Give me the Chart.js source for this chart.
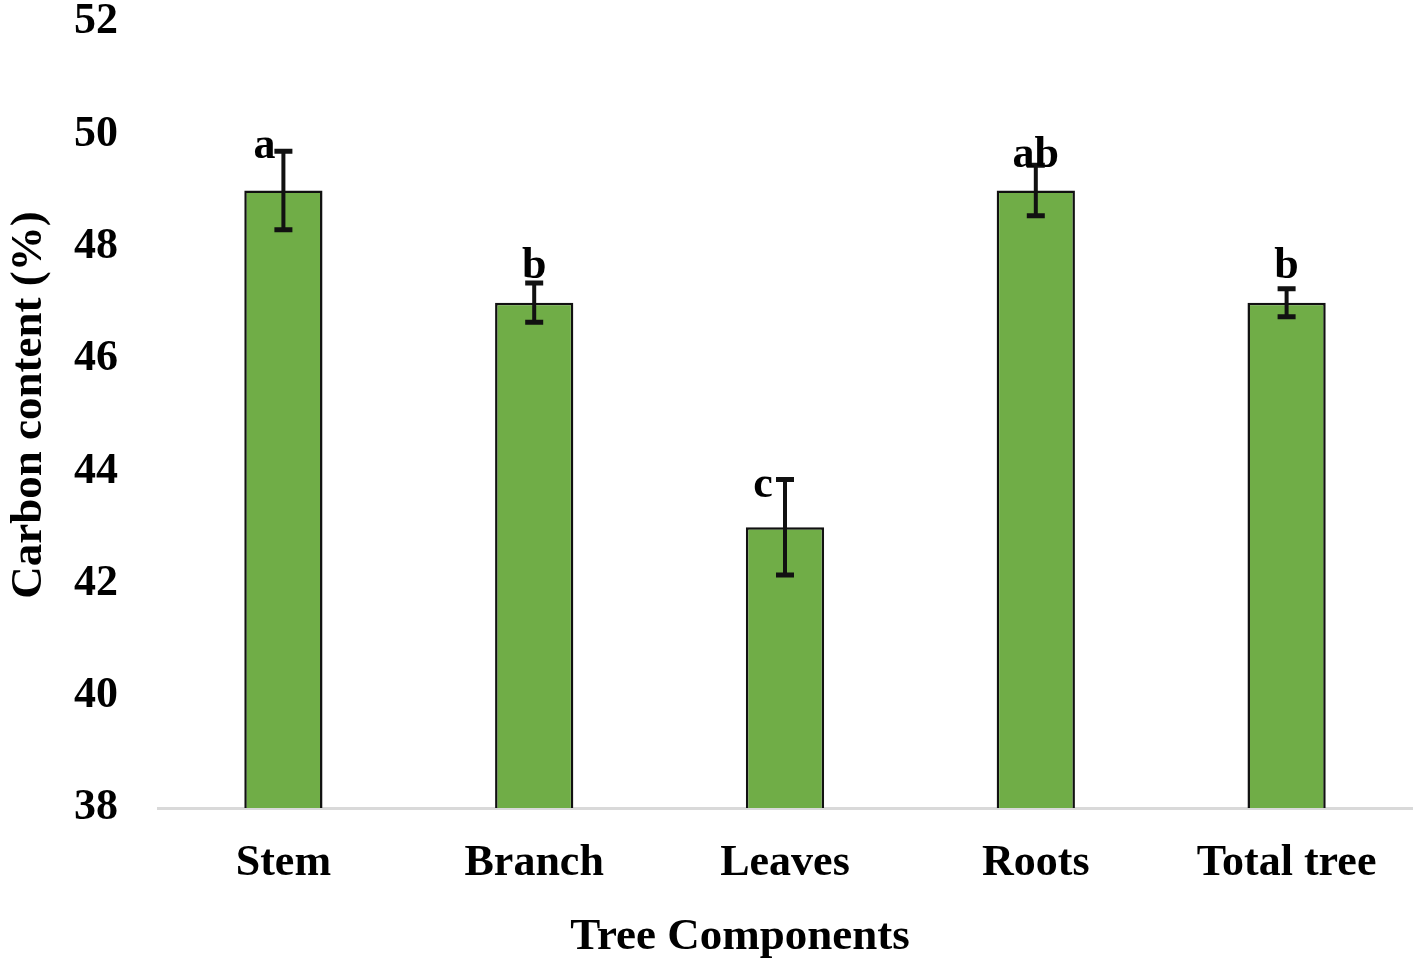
<!DOCTYPE html>
<html>
<head>
<meta charset="utf-8">
<script src="https://cdn.jsdelivr.net/npm/chart.js@4.4.0/dist/chart.umd.min.js"></script>
<style>
html,body{margin:0;padding:0;background:#fff;}
#wrap{width:1418px;height:969px;position:relative;}
</style>
</head>
<body>
<div id="wrap"><canvas id="c"></canvas></div>
<script>
const categories = ['Stem', 'Branch', 'Leaves', 'Roots', 'Total tree'];
const carbonContent = [49.0, 47.0, 43.0, 49.0, 47.0];
const errorValues = [0.7, 0.35, 0.85, 0.45, 0.25];
const letters = ['a', 'b', 'c', 'ab', 'b'];
const letterBaseline = [49.58, 47.44, 43.54, 49.42, 47.44];
const yTicks = [38, 40, 42, 44, 46, 48, 50, 52];
const xTitle = 'Tree Components';
const yTitle = 'Carbon content (%)';

const FONT = '"Liberation Serif", "Times New Roman", serif';
const FS = 44;

const errorPlugin = {
  id: 'errorBars',
  afterDatasetsDraw(chart, args, opts) {
    const ctx = chart.ctx;
    const meta = chart.getDatasetMeta(0);
    const y = chart.scales.y;
    const area = chart.chartArea;
    ctx.save();
    ctx.strokeStyle = '#111';
    ctx.lineCap = 'butt';
    meta.data.forEach((bar, i) => {
      const x = bar.x;
      const top = y.getPixelForValue(carbonContent[i] + errorValues[i]);
      const bot = y.getPixelForValue(carbonContent[i] - errorValues[i]);
      ctx.lineWidth = 4;
      ctx.beginPath();
      ctx.moveTo(x, top); ctx.lineTo(x, bot);
      ctx.stroke();
      ctx.lineWidth = 5;
      ctx.beginPath();
      ctx.moveTo(x - 9, top); ctx.lineTo(x + 9, top);
      ctx.moveTo(x - 9, bot); ctx.lineTo(x + 9, bot);
      ctx.stroke();
    });
    ctx.fillStyle = '#000';
    ctx.font = 'bold ' + FS + 'px ' + FONT;
    ctx.textAlign = 'center';
    ctx.textBaseline = 'alphabetic';
    meta.data.forEach((bar, i) => {
      ctx.fillText(letters[i], bar.x + opts.dx[i], y.getPixelForValue(letterBaseline[i]));
    });
    // axis titles
    ctx.font = 'bold ' + (FS + 1) + 'px ' + FONT;
    ctx.textBaseline = 'middle';
    ctx.fillText(xTitle, (area.left + area.right) / 2 - 45, 937);
    ctx.translate(29, (area.top + area.bottom) / 2 - 10);
    ctx.rotate(-Math.PI / 2);
    ctx.fillText(yTitle, 0, 0);
    ctx.restore();
  }
};

new Chart(document.getElementById('c'), {
  type: 'bar',
  data: {
    labels: categories,
    datasets: [{
      data: carbonContent,
      backgroundColor: '#70ad47',
      borderColor: '#111',
      borderWidth: 2.5,
      borderSkipped: 'bottom',
      categoryPercentage: 1.0,
      barPercentage: 0.312
    }]
  },
  options: {
    responsive: true,
    maintainAspectRatio: false,
    animation: false,
    layout: { padding: { top: 22, right: 6, left: 2, bottom: 6 } },
    plugins: {
      legend: { display: false },
      tooltip: { enabled: false },
      errorBars: { dx: [-19, 0, -22, 0, 0] }
    },
    scales: {
      x: {
        grid: { display: false, drawTicks: false },
        border: { display: true, color: '#d9d9d9', width: 3 },
        ticks: { color: '#000', font: { family: FONT, size: FS, weight: 'bold' }, padding: 29 },
        title: { display: false },
        afterFit(axis) { axis.height = 969 - 808 - 6; axis.paddingLeft = 0; axis.paddingRight = 0; }
      },
      y: {
        min: 38, max: 52,
        afterBuildTicks(axis) { axis.ticks = yTicks.map(v => ({ value: v })); },
        grid: { display: false, drawTicks: false },
        border: { display: false },
        ticks: { color: '#000', font: { family: FONT, size: FS, weight: 'bold' }, padding: 40 },
        title: { display: false },
        afterFit(axis) { axis.width = 156; axis.paddingTop = 0; axis.paddingBottom = 0; }
      }
    }
  },
  plugins: [errorPlugin]
});
</script>
</body>
</html>
